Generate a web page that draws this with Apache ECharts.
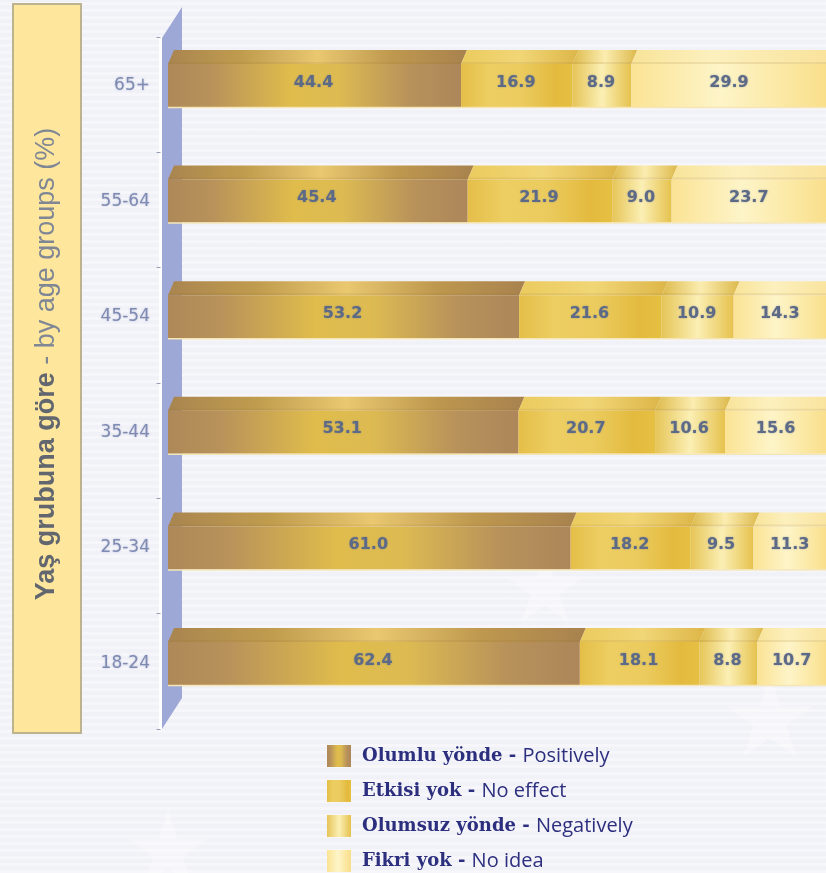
<!DOCTYPE html>
<html>
<head>
<meta charset="utf-8">
<style>
html,body{margin:0;padding:0;width:826px;height:873px;overflow:hidden;
background:repeating-linear-gradient(0deg,rgba(255,255,255,.38) 0 3px,rgba(255,255,255,0) 3px 7px),#F1F1F8;}
#c{width:826px;height:873px;}
</style>
<script src="https://cdn.jsdelivr.net/npm/echarts@6/dist/echarts.min.js"></script>
</head>
<body>
<div id="c"></div>
<script>
const categories = ['65+', '55-64', '45-54', '35-44', '25-34', '18-24'];
const positively = [44.4, 45.4, 53.2, 53.1, 61.0, 62.4];
const noEffect   = [16.9, 21.9, 21.6, 20.7, 18.2, 18.1];
const negatively = [8.9, 9.0, 10.9, 10.6, 9.5, 8.8];
const noIdea     = [29.9, 23.7, 14.3, 15.6, 11.3, 10.7];
const seriesTr = ['Olumlu yönde', 'Etkisi yok', 'Olumsuz yönde', 'Fikri yok'];
const seriesEn = ['Positively', 'No effect', 'Negatively', 'No idea'];
const axisTitleBold = 'Yaş grubuna göre';
const axisTitleRest = ' - by age groups (%)';

const values = [positively, noEffect, negatively, noIdea];
const grad = stops => new echarts.graphic.LinearGradient(0, 0, 1, 0,
  stops.map(s => ({offset: s[0], color: s[1]})));
const faces = [
  [[0,'#AE8958'],[.15,'#B8925A'],[.42,'#E0BC4C'],[.58,'#DDBB52'],[.82,'#B8925A'],[1,'#AD865A']],
  [[0,'#E4BE48'],[.25,'#EDCE62'],[.55,'#EBCB5E'],[.85,'#E3BA3E'],[1,'#E6C043']],
  [[0,'#E6C558'],[.5,'#FBEFB4'],[1,'#E6C24E']],
  [[0,'#FBE394'],[.45,'#FDF4C8'],[.8,'#FBE7A0'],[1,'#F9DE8A']]
];
const caps = [
  [[0,'#A98550'],[.25,'#C09C4E'],[.5,'#E9C870'],[.75,'#BE984E'],[1,'#A8824E']],
  [[0,'#EBCB5E'],[.5,'#F1D677'],[1,'#DDB648']],
  [[0,'#DDBA4C'],[.5,'#FBEDB0'],[1,'#DDB94C']],
  [[0,'#F8E398'],[.4,'#FCF0BE'],[1,'#F9E29A']]
];

const CAP_H = 14, CAP_SKEW = 6, FRONT_H = 43;
const series = [];
values.forEach((vals, i) => {
  series.push({
    type: 'bar', name: seriesTr[i] + ' - ' + seriesEn[i], stack: 'all',
    xAxisIndex: 1, yAxisIndex: 1, barWidth: FRONT_H, z: 3,
    data: vals,
    itemStyle: {color: grad(faces[i])},
    label: {show: true, position: 'inside', offset: [-1, -3],
      formatter: p => p.value.toFixed(1),
      fontFamily: 'DejaVu Sans', fontWeight: 'bold', fontSize: 16, color: '#5C6A88',
      textShadowColor: 'rgba(92,106,136,.55)', textShadowBlur: 2}
  });
});
values.forEach((vals, i) => {
  const capData = vals.map((v, k) => {
    let start = 0;
    for (let j = 0; j < i; j++) start += values[j][k];
    return [start, start + v, k];
  });
  series.push({
    type: 'custom', name: seriesTr[i] + ' - ' + seriesEn[i],
    xAxisIndex: 1, yAxisIndex: 1, z: 4, silent: true,
    encode: {x: [0, 1], y: 2},
    data: capData,
    renderItem: (params, api) => {
      const a = api.coord([api.value(0), api.value(2)]);
      const b = api.coord([api.value(1), api.value(2)]);
      const front = a[1] - FRONT_H / 2, bottom = a[1] + FRONT_H / 2;
      return {type: 'group', children: [
        {type: 'polygon', shape: {points: [
          [a[0] + CAP_SKEW, front - CAP_H], [b[0] + CAP_SKEW, front - CAP_H],
          [b[0], front], [a[0], front]]},
          style: {fill: grad(caps[i])}},
        {type: 'line', shape: {x1: a[0], y1: front - 1, x2: b[0], y2: front - 1},
          style: {stroke: 'rgba(150,110,40,.12)', lineWidth: 2}},
        {type: 'line', shape: {x1: a[0], y1: bottom + .5, x2: b[0], y2: bottom + .5},
          style: {stroke: '#F5E6B8', lineWidth: 1.5}}
      ]};
    }
  });
});

const star = (cx, cy, r) => {
  const pts = [];
  for (let i = 0; i < 10; i++) {
    const rad = i % 2 ? r * .38 : r, t = -Math.PI / 2 + i * Math.PI / 5;
    pts.push([cx + rad * Math.cos(t), cy + rad * Math.sin(t)]);
  }
  return {type: 'polygon', shape: {points: pts}, style: {fill: 'rgba(255,255,255,.3)'}, z: 0, silent: true};
};

const chart = echarts.init(document.getElementById('c'), null, {renderer: 'canvas'});
chart.setOption({
  animation: false,
  backgroundColor: 'transparent',
  grid: [
    {left: 160.5, top: 37, width: 10, height: 692, outerBoundsMode: 'none'},
    {left: 168, top: 27.7, width: 666.6, height: 693.6, outerBoundsMode: 'none'}
  ],
  xAxis: [
    {gridIndex: 0, type: 'value', show: false},
    {gridIndex: 1, type: 'value', min: 0, max: 101, show: false}
  ],
  yAxis: [
    {gridIndex: 0, type: 'category', inverse: true, data: categories,
     axisLine: {show: true, lineStyle: {color: '#FFFFFF', width: 3}},
     axisTick: {show: true, length: 4, lineStyle: {color: '#9A9FB5', width: 1}},
     axisLabel: {show: false}, z: 2},
    {gridIndex: 1, type: 'category', inverse: true, data: categories,
     axisLine: {show: false}, axisTick: {show: false},
     axisLabel: {margin: 18, fontFamily: 'DejaVu Sans', fontSize: 17, color: '#7F8BB2',
       textShadowColor: 'rgba(127,139,178,.5)', textShadowBlur: 2}}
  ],
  legend: {
    orient: 'vertical', left: 327, top: 745, padding: 0, height: 128,
    itemWidth: 24, itemHeight: 22, itemGap: 13,
    icon: 'rect', selectedMode: false,
    data: seriesTr.map((t, i) => t + ' - ' + seriesEn[i]),
    formatter: name => {
      const p = name.split(' - ');
      return '{b|' + p[0] + ' - }{n|' + p[1] + '}';
    },
    textStyle: {rich: {
      b: {fontFamily: 'DejaVu Serif', fontWeight: 'bold', fontSize: 18, lineHeight: 22, color: '#2C2E7E', padding: [0, 0, 0, 6]},
      n: {fontFamily: 'Open Sans', fontSize: 20, lineHeight: 22, color: '#2C2E7E'}
    }}
  },
  graphic: [
    star(168, 852, 42),
    star(545, 590, 40),
    star(770, 720, 46),
    {type: 'rect', shape: {x: 13, y: 4, width: 68, height: 729},
     style: {fill: '#FEE69C', stroke: '#BDB38F', lineWidth: 2}, z: 1},
    {type: 'polygon', shape: {points: [[162, 38], [182, 7], [182, 698], [162, 729]]},
     style: {fill: '#9EA8D6'}, z: 1},
    {type: 'text', x: 47, y: 364, rotation: Math.PI / 2, z: 2,
     style: {
       text: '{b|' + axisTitleBold + '}{r|' + axisTitleRest + '}',
       align: 'center', verticalAlign: 'middle',
       rich: {
         b: {fontFamily: 'Liberation Sans', fontWeight: 'bold', fontSize: 27, fill: '#62676F'},
         r: {fontFamily: 'Liberation Sans', fontSize: 27, fill: '#7F8794'}
       }
     }}
  ],
  series: series
});
</script>
</body>
</html>
